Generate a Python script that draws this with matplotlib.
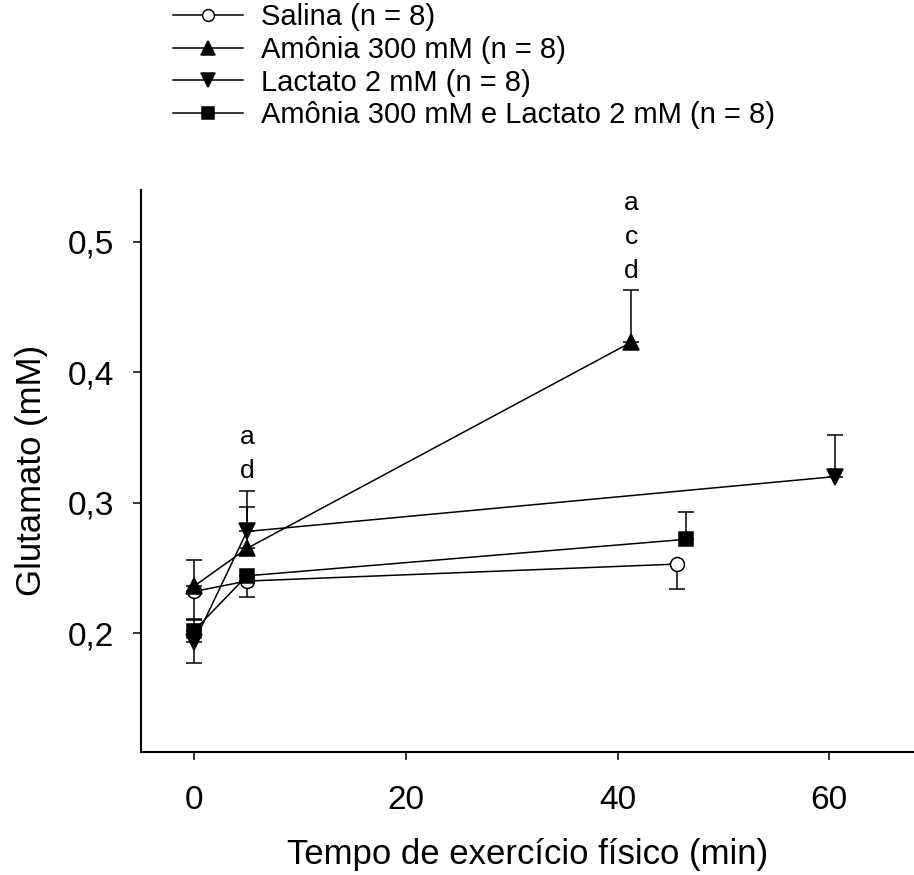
import matplotlib
matplotlib.use("Agg")
import matplotlib.pyplot as plt
import numpy as np

plt.rcParams['font.family'] = ['Liberation Sans', 'DejaVu Sans']

# Glutamate (mM) over exercise time (min), mean with one-sided SEM bars
groups = ["Salina (n = 8)", "Amônia 300 mM (n = 8)", "Lactato 2 mM (n = 8)",
          "Amônia 300 mM e Lactato 2 mM (n = 8)"]
markers = ["o", "^", "v", "s"]
facecolors = ["white", "black", "black", "black"]

salina_t = [0, 5, 45.6]
salina_y = [0.232, 0.240, 0.253]
salina_err_lo = [0.022, 0.012, 0.019]
salina_err_hi = [0.0, 0.0, 0.0]

amonia_t = [0, 5, 41.3]
amonia_y = [0.236, 0.265, 0.423]
amonia_err_lo = [0.0, 0.0, 0.0]
amonia_err_hi = [0.020, 0.032, 0.040]

lactato_t = [0, 5, 60.5]
lactato_y = [0.193, 0.278, 0.320]
lactato_err_lo = [0.016, 0.0, 0.0]
lactato_err_hi = [0.0, 0.031, 0.032]

combo_t = [0, 5, 46.5]
combo_y = [0.202, 0.244, 0.272]
combo_err_lo = [0.0, 0.0, 0.0]
combo_err_hi = [0.009, 0.0, 0.021]

# significance letters: (x, y of the lowest letter, letters top to bottom)
sig_marks = [(5, 0.315, ["a", "d"]), (41.3, 0.468, ["a", "c", "d"])]

series = [
    (salina_t, salina_y, salina_err_lo, salina_err_hi),
    (amonia_t, amonia_y, amonia_err_lo, amonia_err_hi),
    (lactato_t, lactato_y, lactato_err_lo, lactato_err_hi),
    (combo_t, combo_y, combo_err_lo, combo_err_hi),
]

fig = plt.figure(figsize=(9.14, 8.75), dpi=100)
ax = fig.add_axes([0.1543, 0.1411, 0.8457, 0.6418])

sizes = {"o": 10, "s": 10, "^": 12, "v": 12}
handles = []
for (t, y, lo, hi), lab, mk, fc in zip(series, groups, markers, facecolors):
    ax.errorbar(t, y, yerr=[lo, hi], fmt="none", ecolor="black",
                elinewidth=1.1, capsize=6, capthick=1.1, zorder=2)
    h, = ax.plot(t, y, color="black", lw=1.1, marker=mk, markersize=sizes[mk],
                 markerfacecolor=fc, markeredgecolor="black", markeredgewidth=1.1,
                 label=lab, zorder=3)
    handles.append(h)

for x, ybase, letters in sig_marks:
    n = len(letters)
    for i, letter in enumerate(letters):
        ax.annotate(letter, xy=(x, ybase), xytext=(0, (n - 1 - i) * 34),
                    textcoords="offset pixels", ha="center", va="bottom",
                    fontsize=19)

ax.set_xlim(-5, 68)
ax.set_ylim(0.1094, 0.5396)
ax.set_xticks([0, 20, 40, 60])
ax.set_yticks([0.2, 0.3, 0.4, 0.5])
ax.set_yticklabels(["0,2", "0,3", "0,4", "0,5"])
ax.tick_params(direction="out", length=6, width=1.1, labelsize=24)
ax.tick_params(axis="x", pad=18)
ax.tick_params(axis="y", pad=13.5)
for side in ["top", "right"]:
    ax.spines[side].set_visible(False)
for side in ["left", "bottom"]:
    ax.spines[side].set_linewidth(1.5)

ax.set_xlabel("Tempo de exercício físico (min)", fontsize=25, labelpad=16)
ax.set_ylabel("Glutamato (mM)", fontsize=25, labelpad=14)

fig.legend(handles=handles, loc="upper left", bbox_to_anchor=(0.1893, 0.9962),
           frameon=False, fontsize=21, handlelength=2.4, handletextpad=0.6,
           labelspacing=0.16, borderaxespad=0, borderpad=0, markerscale=0.85)

fig.savefig("out.png", dpi=100)
